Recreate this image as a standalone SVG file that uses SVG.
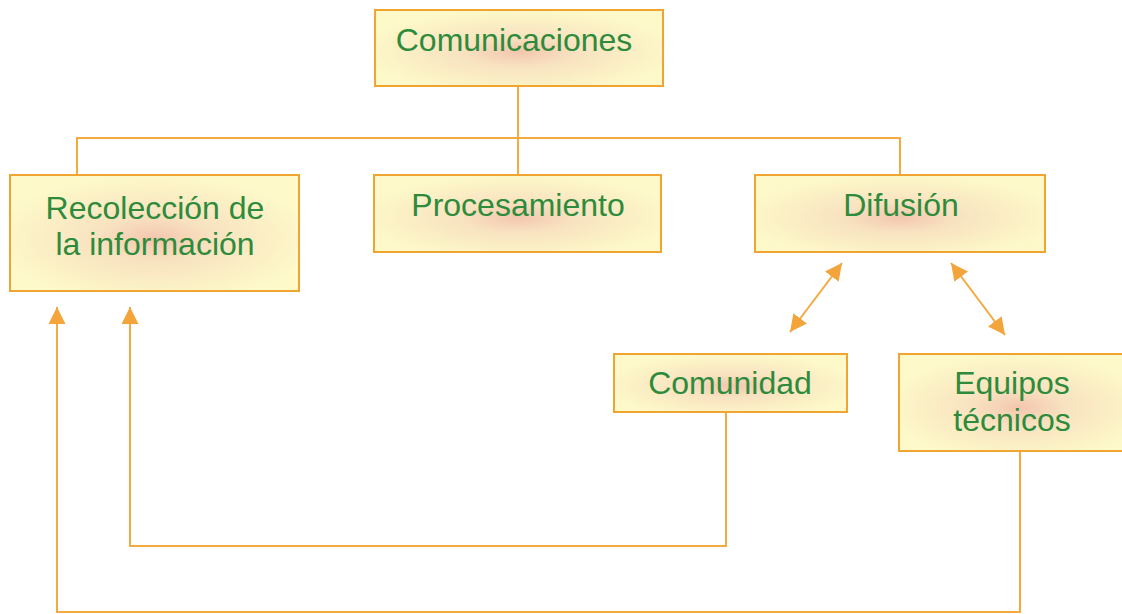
<svg xmlns="http://www.w3.org/2000/svg" width="1122" height="614" viewBox="0 0 1122 614">
<defs>
<radialGradient id="bg" cx="0.5" cy="0.55" r="0.55">
<stop offset="0" stop-color="#F3C6AE"/>
<stop offset="0.35" stop-color="#F8E2C0"/>
<stop offset="1" stop-color="#FDF9C9"/>
</radialGradient>
<marker id="ah" viewBox="0 0 10 10" refX="10" refY="5" markerWidth="17" markerHeight="17" markerUnits="userSpaceOnUse" orient="auto-start-reverse">
<path d="M0,0 L10,5 L0,10 Z" fill="#F3A53C"/>
</marker>
</defs>
<style>
.box{fill:url(#bg);stroke:#F0A431;stroke-width:2}
.t{font-family:"Liberation Sans",Arial,sans-serif;font-size:32px;fill:#2E8B3B;text-anchor:middle}
.c{fill:none;stroke:#F3AA3E;stroke-width:2}
</style>
<rect width="1122" height="614" fill="#FFFFFF"/>
<g id="connectors">
<polyline class="c" points="518,86 518,138"/>
<polyline class="c" points="77,175 77,138 900,138 900,175"/>
<polyline class="c" points="518,138 518,175"/>
<line class="c" x1="790" y1="332" x2="842" y2="263" marker-start="url(#ah)" marker-end="url(#ah)"/>
<line class="c" x1="951" y1="263" x2="1005" y2="335" marker-start="url(#ah)" marker-end="url(#ah)"/>
<polyline class="c" points="726,412 726,546 130,546 130,307" marker-end="url(#ah)"/>
<polyline class="c" points="1020,451 1020,612 57,612 57,307" marker-end="url(#ah)"/>
</g>
<g id="n-comunicaciones">
<rect class="box" x="375" y="10" width="288" height="76"/>
<text class="t" x="514" y="51">Comunicaciones</text>
</g>
<g id="n-recoleccion">
<rect class="box" x="10" y="175" width="289" height="116"/>
<text class="t" x="155" y="219">Recolección de</text>
<text class="t" x="155" y="255">la información</text>
</g>
<g id="n-procesamiento">
<rect class="box" x="374" y="175" width="287" height="77"/>
<text class="t" x="518" y="216">Procesamiento</text>
</g>
<g id="n-difusion">
<rect class="box" x="755" y="175" width="290" height="77"/>
<text class="t" x="901" y="216">Difusión</text>
</g>
<g id="n-comunidad">
<rect class="box" x="614" y="354" width="233" height="58"/>
<text class="t" x="730" y="394">Comunidad</text>
</g>
<g id="n-equipos">
<rect class="box" x="899" y="354" width="240" height="97"/>
<text class="t" x="1012" y="394">Equipos</text>
<text class="t" x="1012" y="431">técnicos</text>
</g>
</svg>
